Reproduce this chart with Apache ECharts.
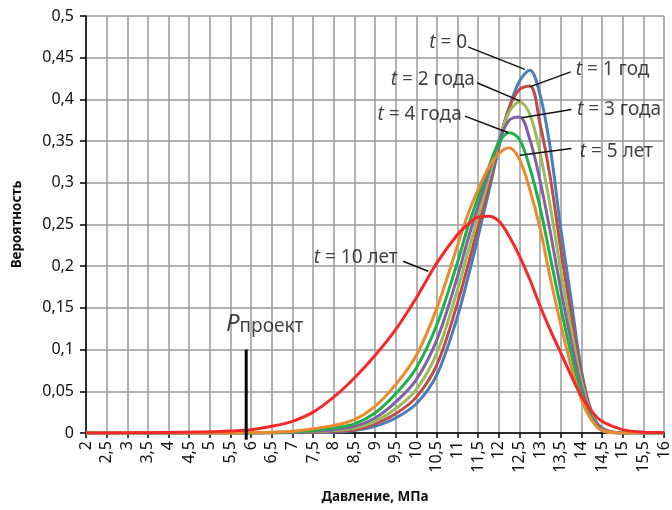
<!DOCTYPE html>
<html>
<head>
<meta charset="utf-8">
<script src="https://cdn.jsdelivr.net/npm/echarts@6/dist/echarts.min.js"></script>
<style>
html, body { margin: 0; padding: 0; background: #fff; }
#main { width: 672px; height: 510px; }
</style>
</head>
<body>
<div id="main"></div>
<script>
// давление, МПа (ось X)
const pressure = [2, 2.5, 3, 3.5, 4, 4.5, 5, 5.5, 6, 6.5, 7, 7.5, 8, 8.5, 9, 9.5, 10, 10.5,
  11, 11.25, 11.5, 11.75, 12, 12.25, 12.5, 12.75, 13, 13.25, 13.5, 13.75, 14, 14.25, 14.5, 15, 15.5, 16];

// вероятность для каждого срока эксплуатации
const probT0 = [0, 0, 0, 0, 0, 0, 0, 0, 0, 0, 0.0003, 0.0006, 0.001, 0.003, 0.008, 0.018, 0.035, 0.07,
  0.14, 0.186, 0.236, 0.288, 0.342, 0.39, 0.422, 0.435, 0.405, 0.34, 0.245, 0.16, 0.075, 0.025, 0.006, 0, 0, 0];
const probT1 = [0, 0, 0, 0, 0, 0, 0, 0, 0, 0.0003, 0.0005, 0.001, 0.002, 0.004, 0.011, 0.023, 0.043, 0.082,
  0.156, 0.201, 0.248, 0.296, 0.348, 0.39, 0.412, 0.416, 0.37, 0.305, 0.22, 0.142, 0.069, 0.023, 0.005, 0, 0, 0];
const probT2 = [0, 0, 0, 0, 0, 0, 0, 0, 0, 0.0004, 0.001, 0.0015, 0.003, 0.006, 0.014, 0.029, 0.052, 0.096,
  0.172, 0.217, 0.26, 0.304, 0.35, 0.385, 0.397, 0.382, 0.335, 0.27, 0.195, 0.125, 0.062, 0.021, 0.004, 0, 0, 0];
const probT3 = [0, 0, 0, 0, 0, 0, 0, 0, 0, 0.0005, 0.001, 0.002, 0.004, 0.008, 0.018, 0.037, 0.064, 0.112,
  0.188, 0.232, 0.272, 0.312, 0.35, 0.375, 0.379, 0.352, 0.302, 0.24, 0.172, 0.11, 0.055, 0.019, 0.004, 0, 0, 0];
const probT4 = [0, 0, 0, 0, 0, 0, 0, 0, 0, 0.0005, 0.0015, 0.003, 0.006, 0.011, 0.024, 0.047, 0.078, 0.13,
  0.205, 0.247, 0.283, 0.318, 0.348, 0.36, 0.352, 0.318, 0.27, 0.21, 0.15, 0.095, 0.047, 0.017, 0.003, 0, 0, 0];
const probT5 = [0, 0, 0, 0, 0, 0, 0, 0, 0.0005, 0.001, 0.002, 0.005, 0.009, 0.016, 0.032, 0.058, 0.093, 0.15,
  0.225, 0.262, 0.292, 0.318, 0.335, 0.342, 0.328, 0.292, 0.245, 0.185, 0.13, 0.08, 0.04, 0.015, 0.003, 0, 0, 0];
const probT10 = [0, 0, 0.0002, 0.0004, 0.0006, 0.001, 0.0015, 0.0025, 0.004, 0.008, 0.014, 0.025, 0.043, 0.066, 0.093, 0.124, 0.162, 0.204,
  0.238, 0.25, 0.259, 0.26, 0.254, 0.236, 0.212, 0.184, 0.152, 0.123, 0.096, 0.069, 0.044, 0.026, 0.014, 0.004, 0.001, 0.0005];

// проектное давление
const pDesign = 5.88;
const pDesignTop = 0.1;

const curves = [
  { name: 't = 0', data: probT0, color: '#4A7EBB' },
  { name: 't = 1 год', data: probT1, color: '#BE4B48' },
  { name: 't = 2 года', data: probT2, color: '#9BBB59' },
  { name: 't = 3 года', data: probT3, color: '#8064A2' },
  { name: 't = 4 года', data: probT4, color: '#1DB04C' },
  { name: 't = 5 лет', data: probT5, color: '#EC8A30' },
  { name: 't = 10 лет', data: probT10, color: '#F42A2A' }
];

// подписи с выносками: точка текста и отрезок выноски (в координатах графика)
const notes = [
  { text: '{i|t} = 0', at: [11.23, 0.468], side: 'left', leader: [[11.25, 0.463], [12.63, 0.436]] },
  { text: '{i|t} = 1 год', at: [13.86, 0.436], side: 'right', leader: [[13.74, 0.433], [12.75, 0.415]] },
  { text: '{i|t} = 2 года', at: [11.42, 0.424], side: 'left', leader: [[11.47, 0.42], [12.52, 0.398]] },
  { text: '{i|t} = 3 года', at: [13.89, 0.388], side: 'right', leader: [[13.76, 0.388], [12.55, 0.378]] },
  { text: '{i|t} = 4 года', at: [11.1, 0.382], side: 'left', leader: [[11.18, 0.38], [12.23, 0.36]] },
  { text: '{i|t} = 5 лет', at: [13.96, 0.338], side: 'right', leader: [[13.76, 0.341], [12.51, 0.333]] },
  { text: '{i|t} = 10 лет', at: [9.55, 0.21], side: 'left', leader: [[9.68, 0.206], [10.29, 0.194]] }
];

const comma = v => String(Math.round(v * 100) / 100).replace('.', ',');
const font = 'Noto Sans';

let myChart = echarts.init(document.getElementById('main'));

let series = curves.map(c => ({
  name: c.name,
  type: 'line',
  data: pressure.map((x, i) => [x, c.data[i]]),
  smooth: 0.35,
  showSymbol: false,
  lineStyle: { color: c.color, width: 3 },
  itemStyle: { color: c.color },
  z: 3
}));

// выноски
notes.forEach(n => {
  series.push({
    type: 'line',
    data: n.leader,
    showSymbol: false,
    silent: true,
    lineStyle: { color: '#111', width: 1.5 },
    z: 4
  });
});

// подписи кривых
series.push({
  type: 'scatter',
  symbolSize: 0,
  silent: true,
  z: 5,
  data: notes.map(n => ({
    value: n.at,
    label: {
      show: true,
      position: n.side,
      distance: 0,
      formatter: n.text,
      color: '#111',
      fontFamily: font,
      fontSize: 19,
      rich: { i: { fontStyle: 'italic', fontSize: 19, fontFamily: font, color: '#111' } }
    }
  }))
});

// P проект
series.push({
  type: 'line',
  data: [[pDesign, -0.008], [pDesign, pDesignTop]],
  showSymbol: false,
  clip: false,
  silent: true,
  lineStyle: { color: '#000', width: 3 },
  z: 4
});
series.push({
  type: 'scatter',
  symbolSize: 0,
  silent: true,
  z: 5,
  data: [{
    value: [5.39, 0.13],
    label: {
      show: true,
      position: 'right',
      distance: 0,
      formatter: '{p|P}{s|проект}',
      rich: {
        p: { fontStyle: 'italic', fontSize: 24, fontFamily: font, color: '#111' },
        s: { fontSize: 19, fontFamily: font, color: '#111', padding: [4, 0, 0, 0] }
      }
    }
  }]
});

let option = {
  animation: false,
  backgroundColor: '#fff',
  grid: { left: 86, right: 8, top: 16, bottom: 77, containLabel: false },
  xAxis: {
    type: 'value',
    min: 2,
    max: 16,
    interval: 0.5,
    name: 'Давление, МПа',
    nameLocation: 'middle',
    nameGap: 57,
    nameTextStyle: { fontFamily: font, fontWeight: 'bold', fontSize: 13.5, color: '#111' },
    axisLine: { show: true, onZero: false, lineStyle: { color: '#000', width: 1.5 } },
    axisTick: { show: true, length: 5, lineStyle: { color: '#000', width: 1.5 } },
    axisLabel: { rotate: 90, margin: 8, fontFamily: font, fontSize: 16, color: '#111', formatter: comma, showMinLabel: true, showMaxLabel: true },
    splitLine: { show: true, lineStyle: { color: '#9a9a9a', width: 1.5 } }
  },
  yAxis: {
    type: 'value',
    min: 0,
    max: 0.5,
    interval: 0.05,
    name: 'Вероятность',
    nameLocation: 'middle',
    nameGap: 62,
    nameTextStyle: { fontFamily: font, fontWeight: 'bold', fontSize: 13.5, color: '#111' },
    axisLine: { show: true, lineStyle: { color: '#000', width: 1.5 } },
    axisTick: { show: true, length: 6, lineStyle: { color: '#000', width: 1.5 } },
    axisLabel: { margin: 12, fontFamily: font, fontSize: 16, color: '#111', formatter: comma, showMinLabel: true, showMaxLabel: true },
    splitLine: { show: true, lineStyle: { color: '#9a9a9a', width: 1.5 } }
  },
  series: series
};

myChart.setOption(option);
</script>
</body>
</html>
